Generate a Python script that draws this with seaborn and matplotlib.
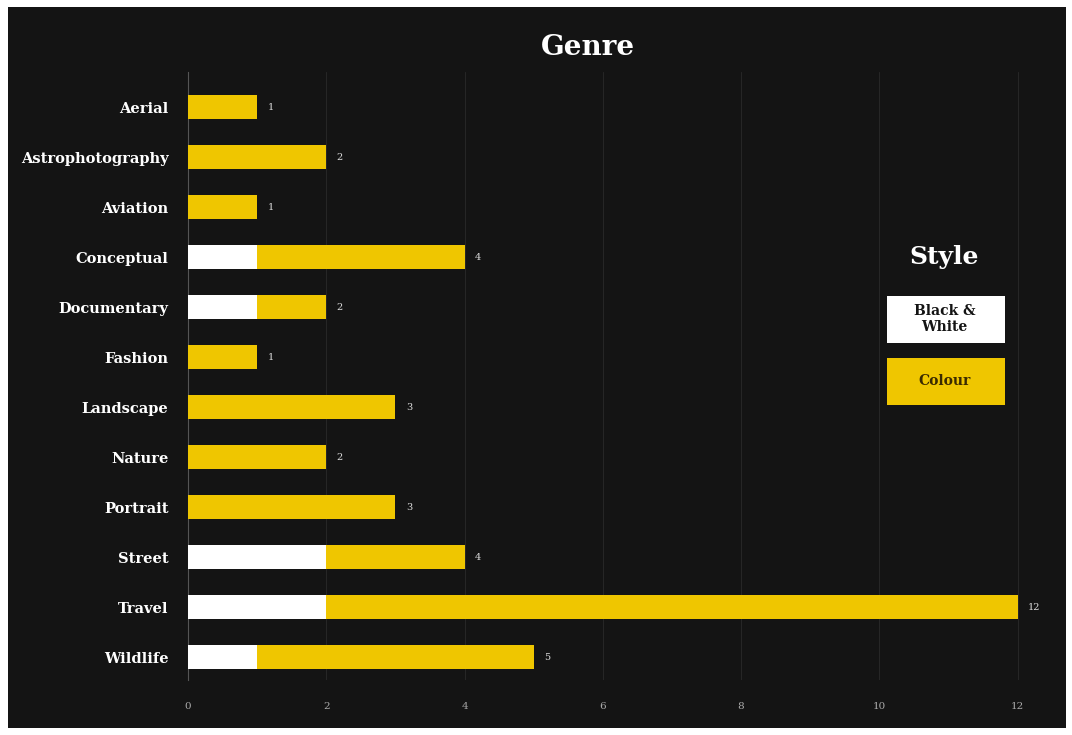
import numpy as np
import pandas as pd
import seaborn as sns
import matplotlib.pyplot as plt
from matplotlib.patches import Rectangle

#%% data
genres = ['Aerial', 'Astrophotography', 'Aviation', 'Conceptual', 'Documentary', 'Fashion',
          'Landscape', 'Nature', 'Portrait', 'Street', 'Travel', 'Wildlife']
black_white = [0, 0, 0, 1, 1, 0, 0, 0, 0, 2, 2, 1]
colour = [1, 2, 1, 3, 1, 1, 3, 2, 3, 2, 10, 4]

bg = '#141414'
yellow = '#EFC600'
serif = 'DejaVu Serif'

df = pd.DataFrame({'genre': genres, 'bw': black_white, 'colour': colour})
df['total'] = df['bw'] + df['colour']

#%% plot
sns.set_style('dark')
fig = plt.figure(figsize=(10.72, 7.35), dpi=100, facecolor='white')
fig.patches.append(Rectangle((8/1072, 7/735), 1058/1072, 721/735, transform=fig.transFigure,
                             facecolor=bg, edgecolor='none', zorder=-10))
ax = fig.add_axes([0.1754, 0.0748, 0.7996, 0.8272])
ax.set_facecolor(bg)

# total length in yellow, b&w part drawn over it from zero
sns.barplot(data=df, y='genre', x='total', color=yellow, width=0.48, saturation=1,
            linewidth=0, ax=ax, zorder=3)
sns.barplot(data=df, y='genre', x='bw', color='white', width=0.48, saturation=1,
            linewidth=0, ax=ax, zorder=4)

for i, t in enumerate(df['total']):
    ax.text(t + 0.15, i, str(t), color='#dddddd', fontsize=7, family=serif, va='center', ha='left')

ax.set_xlim(0, 12.4)
ax.set_ylim(11.46, -0.7)
ax.set_xticks(range(0, 13, 2))
ax.grid(axis='x', color='#262626', linewidth=0.8, zorder=0)
ax.grid(axis='y', visible=False)
for s in ['top', 'right', 'bottom']:
    ax.spines[s].set_visible(False)
ax.spines['left'].set_color('#555555')
ax.tick_params(axis='x', colors='#aaaaaa', labelsize=7.5, length=0, pad=16)
ax.tick_params(axis='y', colors='white', labelsize=10.5, length=0, pad=14)
for lab in ax.get_xticklabels():
    lab.set_family(serif)
for lab in ax.get_yticklabels():
    lab.set_family(serif)
    lab.set_fontweight('bold')
ax.set_xlabel('')
ax.set_ylabel('')

fig.text(0.548, 0.936, 'Genre', color='white', fontsize=20, fontweight='heavy', family=serif,
         ha='center', va='center')

# legend boxes
fig.text(0.881, 0.651, 'Style', color='white', fontsize=18, fontweight='bold', family=serif,
         ha='center', va='center')
fig.patches.append(Rectangle((887/1072, 1 - 343/735), 118/1072, 47/735, transform=fig.transFigure,
                             facecolor='white', edgecolor='none'))
fig.text(0.881, 1 - 319/735, 'Black &\nWhite', color='#141414', fontsize=10, fontweight='bold',
         family=serif, ha='center', va='center', linespacing=1.2)
fig.patches.append(Rectangle((887/1072, 1 - 405/735), 118/1072, 47/735, transform=fig.transFigure,
                             facecolor=yellow, edgecolor='none'))
fig.text(0.881, 1 - 381/735, 'Colour', color='#3a2a00', fontsize=10, fontweight='bold',
         family=serif, ha='center', va='center')

plt.savefig('out.png', dpi=100, facecolor=fig.get_facecolor())
